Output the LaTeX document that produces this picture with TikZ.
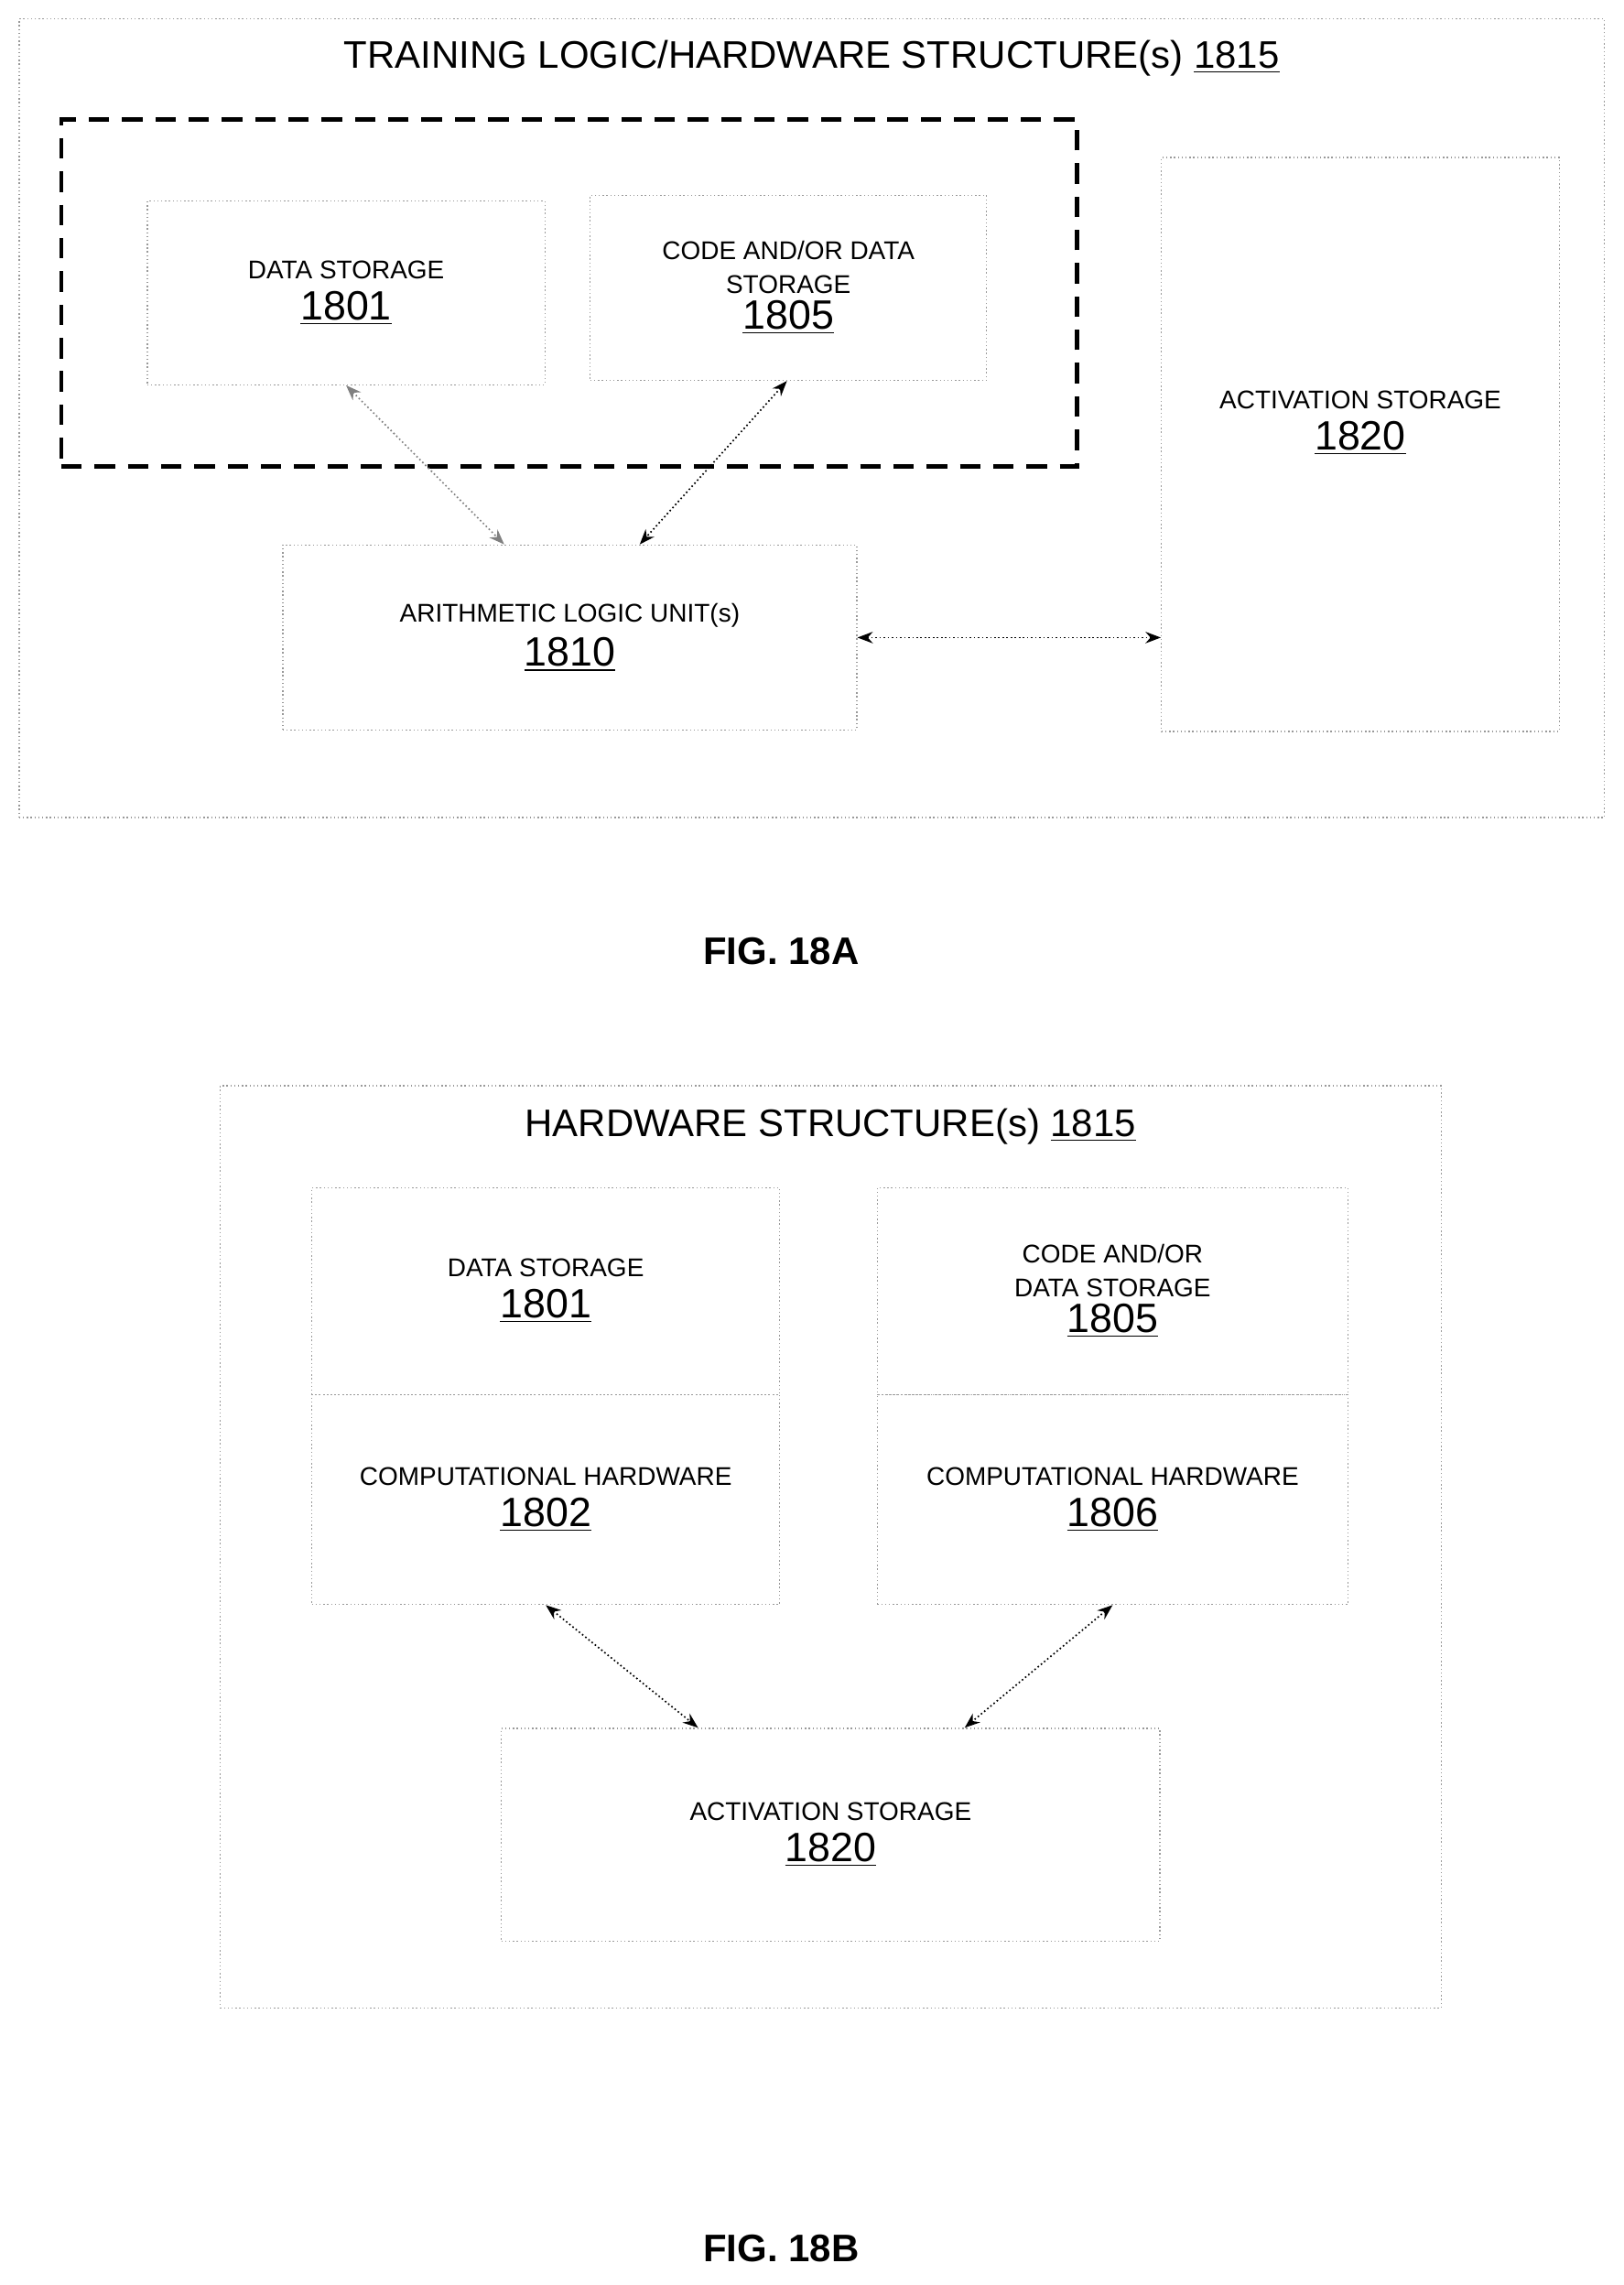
\documentclass[tikz,border=0pt]{standalone}
\usepackage{fontspec}
\usetikzlibrary{arrows.meta}
\setmainfont{Liberation Sans}
\newcommand\lab{\fontsize{10}{13}\selectfont}
\newcommand\numf[1]{{\fontsize{16}{18}\selectfont\underline{#1}}}
\begin{document}
\begin{tikzpicture}[x=0.02cm,y=-0.02cm,
  box/.style={draw=gray!80,densely dotted,line width=0.5pt,inner sep=0pt,align=center,font=\lab},
  arr/.style={densely dotted,line width=0.6pt,{Stealth[length=6pt]}-{Stealth[length=6pt]}},
  fig/.style={font=\fontsize{15}{18}\selectfont\bfseries}]
\useasboundingbox (0,0) rectangle (1114,1568);
% FIG 18A
\node[box,minimum width=21.76cm,minimum height=10.96cm] (outA) at (557,287) {};
\node[font=\fontsize{15}{18}\selectfont] (titA) at (557,40) {TRAINING LOGIC/HARDWARE STRUCTURE(s) \underline{1815}};
\node[draw,dashed,dash pattern=on 8pt off 5pt,line width=1.6pt,minimum width=13.94cm,minimum height=4.76cm] (dash) at (390.5,201) {};
\node[box,minimum width=5.46cm,minimum height=2.52cm] (ds) at (237.5,201) {DATA STORAGE\\[3pt]\numf{1801}};
\node[box,minimum width=5.44cm,minimum height=2.54cm] (code) at (541,197.5) {CODE AND/OR DATA\\STORAGE\\[1pt]\numf{1805}};
\node[box,minimum width=5.46cm,minimum height=7.88cm] (act) at (933.5,305) {ACTIVATION STORAGE\\[3pt]\numf{1820}\\[6pt]};
\node[box,minimum width=7.88cm,minimum height=2.54cm] (alu) at (391,437.5) {ARITHMETIC LOGIC UNIT(s)\\[3pt]\numf{1810}};
\draw[arr,gray] (ds.south) -- ([xshift=-0.9cm]alu.north);
\draw[arr] ([xshift=-0.02cm]code.south) -- ([xshift=0.96cm]alu.north);
\draw[arr] (alu.east) -- (alu.east -| act.west);
\node[fig] (figA) at (536,653) {FIG. 18A};
% FIG 18B
\node[box,minimum width=16.76cm,minimum height=12.66cm] (outB) at (570,1061.5) {};
\node[font=\fontsize{15}{18}\selectfont] (titB) at (570,773) {HARDWARE STRUCTURE(s) \underline{1815}};
\node[box,minimum width=6.42cm,minimum height=2.84cm] (lt) at (374.5,886) {DATA STORAGE\\[3pt]\numf{1801}};
\node[box,minimum width=6.42cm,minimum height=2.88cm] (lb) at (374.5,1029) {COMPUTATIONAL HARDWARE\\[3pt]\numf{1802}};
\node[box,minimum width=6.46cm,minimum height=2.84cm] (rt) at (763.5,886) {CODE AND/OR\\DATA STORAGE\\[1pt]\numf{1805}};
\node[box,minimum width=6.46cm,minimum height=2.88cm] (rb) at (763.5,1029) {COMPUTATIONAL HARDWARE\\[3pt]\numf{1806}};
\node[box,minimum width=9.04cm,minimum height=2.92cm] (actB) at (570,1259) {ACTIVATION STORAGE\\[3pt]\numf{1820}};
\draw[arr] (lb.south) -- ([xshift=-1.82cm]actB.north);
\draw[arr] (rb.south) -- ([xshift=1.84cm]actB.north);
\node[fig] (figB) at (536,1543) {FIG. 18B};
\end{tikzpicture}
\end{document}
